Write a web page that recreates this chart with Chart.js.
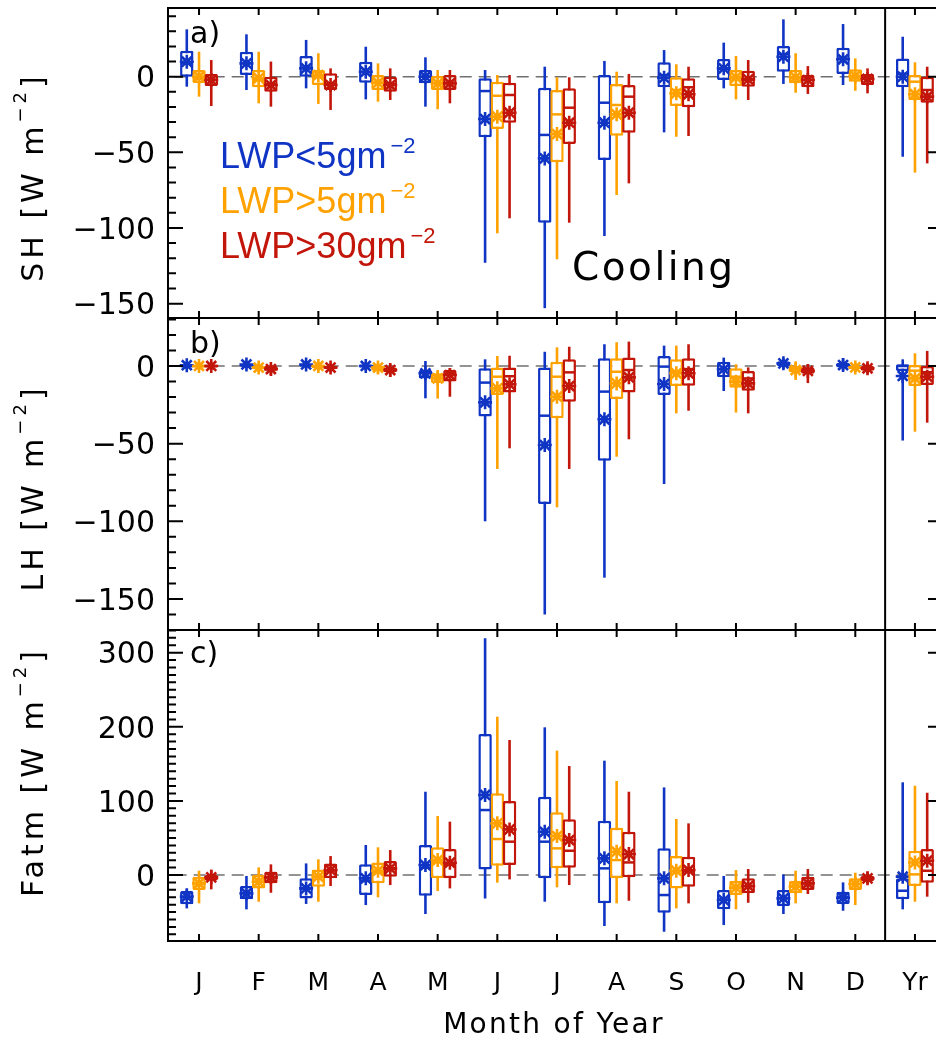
<!DOCTYPE html>
<html>
<head>
<meta charset="utf-8">
<script src="https://cdn.jsdelivr.net/npm/chart.js@4"></script>
<style>
  body { margin: 0; background: #fff; overflow: hidden; }
  #wrap { position: relative; width: 936px; height: 1038px; overflow: hidden; background: #fff; }
  #wrap canvas { position: absolute; left: 0; top: 0; }
</style>
</head>
<body>
<div id="wrap">
  <canvas id="panelSH" width="960" height="1038"></canvas>
  <canvas id="panelLH" width="960" height="1038"></canvas>
  <canvas id="panelFatm" width="960" height="1038"></canvas>
</div>
<script>
// Categorías del eje x
const months = ['J', 'F', 'M', 'A', 'M', 'J', 'J', 'A', 'S', 'O', 'N', 'D', 'Yr'];
const seriesNames = ['LWP<5gm', 'LWP>5gm', 'LWP>30gm'];

// Valores de las marcas del eje y de cada panel
const shTicks = [-150, -100, -50, 0];
const lhTicks = [-150, -100, -50, 0];
const fatmTicks = [0, 100, 200, 300];

// Cada fila: [bigote inferior, Q1, mediana, Q3, bigote superior, media]
// a) SH
const sh_lt5 = [
  [-6.6, 0, 9, 17.2, 31.3, 9.9], [-8.8, 1.1, 9, 16.5, 28, 8.8], [-7.7, 0, 6, 13.7, 24.3, 5.5],
  [-15, -4, 3, 9.9, 19.8, 3.3], [-19.8, -4.4, 0, 4.4, 12.8, 0], [-123, -40, -9.5, -1.1, 4.4, -28],
  [-153, -96.5, -38.5, -7.3, 6.6, -54], [-105.3, -55, -17.2, 1.1, 10.4, -30.4], [-36.8, -7, 1, 9.5, 17.6, -0.7],
  [-7.7, -2.2, 5, 11.7, 22.5, 5.5], [-4.8, 3.3, 15, 20.3, 37.9, 13.2], [-5.5, 1.8, 12, 19.2, 34.8, 11.5],
  [-52.9, -7, 2, 12.1, 26.4, 0]
];
const sh_gt5 = [
  [-13.2, -4.2, -1, 4.4, 16.5, 0], [-17.6, -7, -2, 4.4, 16.5, -1], [-18, -5.5, 0, 4.4, 15.5, 1],
  [-16.5, -8.8, -4, 1.1, 8.8, -4], [-21.5, -8.8, -4, 0.5, 4.4, -4.4], [-103.5, -34.6, -12.6, -3.3, 1.1, -26.4],
  [-120.7, -56.6, -24.9, -8.8, -0.4, -37.9], [-78.2, -39, -18.7, -4.8, 3.3, -24.9], [-39.7, -19.4, -8.8, -0.4, 8.2, -11],
  [-15, -6.1, -1, 4.4, 13.7, -0.4], [-10.6, -4.4, -1, 4.4, 15.5, -0.4], [-9.3, -3.3, 0, 4.9, 12.1, 0.5],
  [-63.4, -15.4, -3.3, 1.1, 9.5, -11.6]
];
const sh_gt30 = [
  [-19.4, -6.1, -2, 1.8, 11, -2.2], [-19.8, -9.9, -5, 0, 10, -5.5], [-22, -8.8, -5, 2.2, 5.5, -5.5],
  [-15.4, -9.9, -5, 0, 5.5, -5.5], [-17.6, -8.8, -4, 1.1, 4.4, -4.4], [-93.6, -30.4, -12.1, -4, 1.1, -23.8],
  [-96.5, -44.5, -20.5, -7.7, -0.4, -30.4], [-70.5, -37, -13.2, -5.5, 1.8, -23.8], [-39.2, -20.2, -7, -1.1, 6.6, -11.6],
  [-15.4, -6.6, -2, 4, 11, -1.8], [-11.4, -7, -2, 1.1, 7, -2.2], [-11, -5.5, -1, 1.8, 5.5, -1.5],
  [-57.3, -17.2, -8.8, 0, 6.6, -13.2]
];
// b) LH
const lh_lt5 = [
  [-2, -1, 0, 1, 2.5, 0.5], [-1.5, -0.5, 0.5, 1.5, 3, 1], [-1.5, -0.5, 0.5, 1.5, 3, 1],
  [-3, -1, 0, 1, 2, 0], [-20.8, -8, -4, -2.6, 3.2, -4.7], [-100, -32.6, -10.7, -1.5, 4.3, -23.4],
  [-160, -88.9, -32, -0.9, 9.2, -50.9], [-136.3, -61, -16.5, 5, 14, -34.3], [-76, -18.7, -0.4, 6.4, 13.1, -11.6],
  [-16.1, -7.3, -2, 2.8, 5.4, -2.1], [-2, 0, 1.5, 3, 5, 1.7], [-3, -1, 0.5, 2, 5, 0.6],
  [-48, -3.2, 0, 1.1, 4.3, -6.4]
];
const lh_gt5 = [
  [-2.5, -1, 0, 0.5, 2, 0], [-4, -2, -1, 0, 1.5, -1], [-3, -1.5, 0, 0.5, 2.5, 0],
  [-5, -3, -1, 0, 2, -1], [-21, -11, -6, -4.7, -2.6, -8], [-66.3, -18.7, -6.9, -0.9, 6.4, -14.4],
  [-91, -33.7, -6.9, 2.8, 12, -19.8], [-58.4, -21.2, -3.7, 5, 15.3, -11.2], [-30.5, -12.9, -3.7, 4.3, 13.1, -4.7],
  [-30, -14, -6.9, -1.5, 1.1, -10.1], [-9, -4, -2, 0, 3, -2.6], [-4, -2, -1, 0, 2, -0.9],
  [-42.3, -12.9, -3, 0.6, 8.2, -8]
];
const lh_gt30 = [
  [-2.5, -1, 0, 0.5, 2, 0], [-6, -3, -2, 0, 1, -2], [-4, -2, -1, 0, 1.5, -1],
  [-7, -4, -2, -1, 1, -2.6], [-19.8, -10, -5, -2.6, -1.5, -5.8], [-53, -17, -6.6, -0.9, 6.6, -11.8],
  [-66.3, -23, -4.1, 4.3, 12.4, -12.9], [-47.2, -17, -2.6, 5.4, 15.7, -7.3], [-28.8, -12.7, -2, 5, 14, -4.7],
  [-30.5, -15.9, -8, -3.2, -0.9, -11.2], [-11, -5, -3, -1, 1, -3.2], [-5, -3, -1.5, 0, 2, -1.5],
  [-36.5, -12.2, -4, 0, 9.7, -6.9]
];
// c) Fatm
const fatm_lt5 = [
  [-45, -39.5, -30, -21.6, -17.8, -29], [-46.3, -32.8, -24, -14.8, -1.3, -24.7], [-39, -31.5, -18, -4.5, 15.7, -18],
  [-40.5, -27, -8, 14.4, 40.5, -4.5], [-52.6, -27.9, 10, 40.5, 112.4, 13.5], [-31.5, 7.6, 87.7, 190.3, 319.4, 108],
  [-36, -4.5, 45, 105.7, 199.3, 58.3], [-68.8, -38.2, 9, 73.3, 154.3, 22.5], [-76.5, -50.9, -27, 36, 118.2, -4.5],
  [-67.5, -46.3, -33, -20.2, -1.3, -33.7], [-52.6, -41.8, -31, -20.2, 0.9, -31.5], [-48.2, -39, -30, -22.5, -9.9, -30.6],
  [-46.3, -32.8, -21.2, -4.5, 125.1, -2.2]
];
const fatm_gt5 = [
  [-38.2, -20.2, -11, -2.3, 5.8, -11.2], [-36, -18, -9, 0, 10.3, -9], [-36, -15.7, -3, 7.6, 21.2, -2.2],
  [-30, -11.2, 4, 17, 37.4, 5.8], [-21.6, -4.5, 18, 37.4, 79.6, 20.2], [-10.3, 12.6, 48.6, 110.2, 213.6, 69.7],
  [-16.6, 9, 36, 84.6, 167.8, 52.6], [-38.2, -4.5, 20.2, 63.8, 126.9, 31.5], [-45, -18, 5, 25.6, 75.6, 5.8],
  [-46.3, -27, -17, -7.6, 6.7, -17.1], [-38.2, -24.7, -15, -7.6, 5.8, -15.7], [-40.5, -20.2, -12, -4.5, 3.1, -12.1],
  [-36, -14.8, 0.9, 32.8, 120.5, 17]
];
const fatm_gt30 = [
  [-19.3, -7, -3, 0, 7.4, -3.1], [-23.9, -11.2, -3, 4.5, 14.4, -3.1], [-14.8, -4.5, 6, 15.7, 25.6, 6.7],
  [-13.5, -2.2, 8, 18.9, 33.7, 9], [-18, -4.5, 14, 35, 72, 16.6], [-5.9, 13.5, 45, 99.9, 182.2, 61.6],
  [-13.5, 9.9, 32.8, 75.2, 147.1, 47.2], [-34.7, -3.1, 17, 58.4, 112.4, 28.3], [-38.2, -15.7, 5, 24.7, 69.7, 6.7],
  [-37.4, -24.7, -15, -4.5, 8.1, -14.8], [-25.6, -20.2, -11, -2.2, 8.1, -11.2], [-12, -8, -5, -1, 4.5, -4.5],
  [-29.2, -10.3, 5.8, 35, 111, 19.3]
];

// Estilo
const colors = ['#1034c4', '#ffa200', '#c2160a'];
const xShift = [-0.205, 0, 0.205];
const FONT = '"DejaVu Sans", sans-serif';
const LEGEND_FONT = '"Liberation Sans", Arial, sans-serif';
Chart.defaults.font.family = FONT;
Chart.defaults.color = '#000';

// Caja, bigotes, mediana y media de una serie
function boxDatasets(rows, s) {
  const c = colors[s];
  const base = (2 - s) * 4 + 1;
  const pos = i => i + xShift[s];
  return [
    { type: 'bar', grouped: false, order: base + 3,
      data: rows.map((r, i) => ({ x: pos(i), y: [r[0], r[4]] })),
      backgroundColor: c, borderWidth: 0, maxBarThickness: 2.6 },
    { type: 'bar', grouped: false, order: base + 2,
      data: rows.map((r, i) => ({ x: pos(i), y: [r[1], r[3]] })),
      backgroundColor: '#fff', borderColor: c, borderWidth: 2.5, borderSkipped: false,
      borderRadius: 1.5, barPercentage: 1.1, categoryPercentage: 1 },
    { type: 'scatter', order: base + 1,
      data: rows.map((r, i) => ({ x: pos(i), y: r[2] })),
      pointStyle: 'line', pointRadius: 6, borderColor: c, borderWidth: 2.5 },
    { type: 'scatter', order: base,
      data: rows.map((r, i) => ({ x: pos(i), y: r[5] })),
      pointStyle: 'star', pointRadius: 7, borderColor: c, backgroundColor: c, borderWidth: 2.6 }
  ];
}

// Texto con superíndice opcional
function drawRich(ctx, t) {
  const fam = t.family || FONT;
  const supSize = Math.round(t.size * (t.supScale || 0.62));
  ctx.save();
  ctx.translate(t.x, t.y);
  if (t.rotate) ctx.rotate(-Math.PI / 2);
  ctx.fillStyle = t.color || '#000';
  ctx.letterSpacing = (t.spacing || 0) + 'px';
  ctx.textBaseline = 'alphabetic';
  ctx.textAlign = 'left';
  ctx.font = t.size + 'px ' + fam;
  const w1 = ctx.measureText(t.text).width;
  const w3 = t.tail ? ctx.measureText(t.tail).width : 0;
  let w2 = 0;
  if (t.sup) {
    ctx.font = supSize + 'px ' + fam;
    w2 = ctx.measureText(t.sup).width + (t.supGap || 0);
  }
  const x0 = t.align === 'center' ? -(w1 + w2 + w3) / 2 : 0;
  ctx.font = t.size + 'px ' + fam;
  ctx.fillText(t.text, x0, 0);
  if (t.tail) ctx.fillText(t.tail, x0 + w1 + w2, 0);
  if (t.sup) {
    ctx.font = supSize + 'px ' + fam;
    ctx.fillText(t.sup, x0 + w1 + (t.supGap || 0), -(t.supRaise || t.size * 0.45));
  }
  ctx.restore();
}

function textPlugin(items) {
  return { id: 'texts', afterDraw(chart) { items.forEach(t => drawRich(chart.ctx, t)); } };
}

// Marco con marcas hacia dentro
function framePlugin(minor, major) {
  return {
    id: 'frame',
    afterDatasetsDraw(chart) {
      const { ctx, chartArea: a, scales: { x, y } } = chart;
      ctx.save();
      ctx.strokeStyle = '#000';
      ctx.lineWidth = 2;
      ctx.strokeRect(a.left, a.top, a.right - a.left, a.bottom - a.top);
      ctx.beginPath();
      months.forEach((m, i) => {
        const px = x.getPixelForValue(i);
        ctx.moveTo(px, a.top); ctx.lineTo(px, a.top + 7);
        ctx.moveTo(px, a.bottom); ctx.lineTo(px, a.bottom - 7);
      });
      for (let v = Math.ceil(y.min / minor) * minor; v <= y.max; v += minor) {
        const py = y.getPixelForValue(v);
        const isMajor = Math.abs(v % major) < 1e-6;
        const len = isMajor ? 15 : 8;
        ctx.moveTo(a.left, py); ctx.lineTo(a.left + len, py);
        if (isMajor) { ctx.moveTo(a.right, py); ctx.lineTo(a.right - len, py); }
      }
      ctx.stroke();
      ctx.restore();
    }
  };
}

function makePanel(id, series, ticks, yMin, yMax, pad, minor, major, texts, showX) {
  const datasets = [
    { type: 'line', order: 20, data: [{ x: -2, y: 0 }, { x: 14, y: 0 }],
      borderColor: '#707070', borderWidth: 1.5, borderDash: [12, 7], pointRadius: 0 },
    { type: 'line', order: 0, data: [{ x: 11.5, y: -1000 }, { x: 11.5, y: 1000 }],
      borderColor: '#000', borderWidth: 2, pointRadius: 0 }
  ];
  series.forEach((rows, s) => datasets.push(...boxDatasets(rows, s)));

  return new Chart(document.getElementById(id), {
    type: 'scatter',
    data: { datasets },
    options: {
      responsive: false,
      animation: false,
      events: [],
      layout: { padding: pad, autoPadding: false },
      plugins: { legend: { display: false }, tooltip: { enabled: false } },
      scales: {
        x: {
          type: 'linear', min: -0.52, max: 12.47, offset: false,
          display: showX,
          afterBuildTicks: sc => { sc.ticks = months.map((m, i) => ({ value: i })); },
          afterFit: sc => {
            if (showX) sc.height = 97;
            sc.paddingLeft = 0; sc.paddingRight = 0;
          },
          ticks: { autoSkip: false, maxRotation: 0, padding: 27, font: { size: 25 },
                   callback: v => months[v] },
          grid: { display: false, drawTicks: false },
          border: { display: false }
        },
        y: {
          type: 'linear', min: yMin, max: yMax,
          afterBuildTicks: sc => { sc.ticks = ticks.map(v => ({ value: v })); },
          afterFit: sc => { sc.width = 168; sc.paddingTop = 0; sc.paddingBottom = 0; },
          ticks: { padding: 13, labelOffset: 3, font: { size: 30 },
                   callback: v => (v < 0 ? '\u2212' + (-v) : String(v)) },
          grid: { display: false, drawTicks: false },
          border: { display: false }
        }
      }
    },
    plugins: [framePlugin(minor, major), textPlugin(texts)]
  });
}

const yTitle = (name, cy) => ({ text: name + ' [W m', sup: '\u22122', tail: ']', x: 43, y: cy,
  size: 30, rotate: true, align: 'center', spacing: 4, supScale: 0.6, supRaise: 17, supGap: 0 });
const legendItem = (s, y) => ({ text: seriesNames[s], sup: '\u22122', x: 220, y, size: 36,
  family: LEGEND_FONT, color: colors[s], supScale: 0.6, supRaise: 15, supGap: 4 });

makePanel('panelSH', [sh_lt5, sh_gt5, sh_gt30], shTicks, -159.5, 45.4,
  { left: 0, right: 17, top: 8, bottom: 720 }, 10, 50, [
    { text: 'a)', x: 190, y: 43, size: 30 },
    yTitle('SH', 177),
    legendItem(0, 168), legendItem(1, 213), legendItem(2, 258),
    { text: 'Cooling', x: 572, y: 280, size: 39, spacing: 2.5 }
  ], false);

makePanel('panelLH', [lh_lt5, lh_gt5, lh_gt30], lhTicks, -170, 30.9,
  { left: 0, right: 17, top: 318, bottom: 408 }, 10, 50, [
    { text: 'b)', x: 190, y: 353, size: 30 },
    yTitle('LH', 488)
  ], false);

makePanel('panelFatm', [fatm_lt5, fatm_gt5, fatm_gt30], fatmTicks, -89, 330.6,
  { left: 0, right: 17, top: 630, bottom: 0 }, 10, 100, [
    { text: 'c)', x: 190, y: 663, size: 30 },
    yTitle('Fatm', 772),
    { text: 'Month of Year', x: 554, y: 1033, size: 28, spacing: 2.3, align: 'center' }
  ], true);
</script>
</body>
</html>
